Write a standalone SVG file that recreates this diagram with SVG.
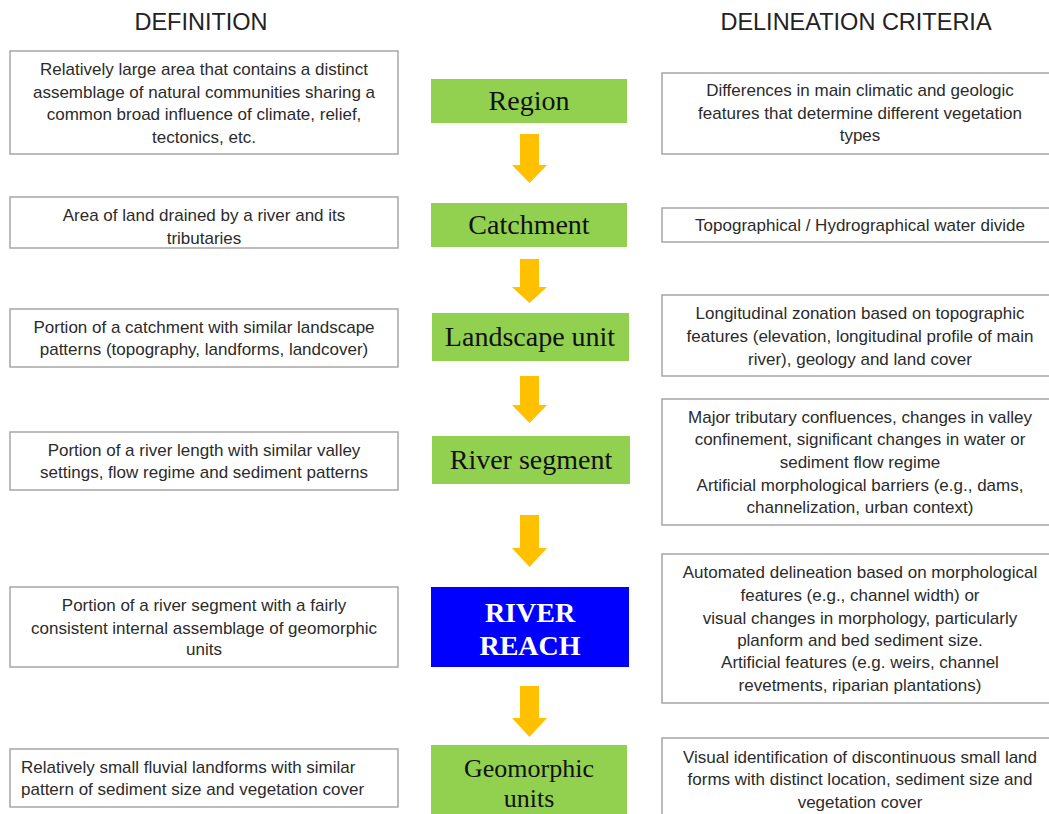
<svg xmlns="http://www.w3.org/2000/svg" width="1049" height="814" viewBox="0 0 1049 814">
<style>
.box{fill:#fff;stroke:#a6a6a6;stroke-width:1.5}
.t{font-family:"Liberation Sans",Arial,sans-serif;font-size:17px;fill:#2b2b2b;text-anchor:middle}
.tl{font-family:"Liberation Sans",Arial,sans-serif;font-size:17px;fill:#2b2b2b}
.h{font-family:"Liberation Sans",Arial,sans-serif;font-size:23.5px;fill:#222;text-anchor:middle}
.g{fill:#92d050}
.lvl{font-family:"Liberation Serif","Times New Roman",serif;font-size:28px;fill:#111;text-anchor:middle}
.arr{fill:#ffc000}
</style>
<rect width="1049" height="814" fill="#fff"/>
<text class="h" x="201" y="30">DEFINITION</text>
<text class="h" x="856" y="30">DELINEATION CRITERIA</text>

<g id="def-region"><rect class="box" x="10" y="51" width="388" height="103"/>
<text class="t" x="204" y="75">Relatively large area that contains a distinct</text>
<text class="t" x="204" y="98">assemblage of natural communities sharing a</text>
<text class="t" x="204" y="120">common broad influence of climate, relief,</text>
<text class="t" x="204" y="143">tectonics, etc.</text></g>
<g id="def-catchment"><rect class="box" x="10" y="197" width="388" height="51"/>
<text class="t" x="204" y="221">Area of land drained by a river and its</text>
<text class="t" x="204" y="244">tributaries</text></g>
<g id="def-landscape"><rect class="box" x="10" y="309" width="388" height="58"/>
<text class="t" x="204" y="333">Portion of a catchment with similar landscape</text>
<text class="t" x="204" y="355">patterns (topography, landforms, landcover)</text></g>
<g id="def-segment"><rect class="box" x="10" y="432" width="388" height="58"/>
<text class="t" x="204" y="456">Portion of a river length with similar valley</text>
<text class="t" x="204" y="478">settings, flow regime and sediment patterns</text></g>
<g id="def-reach"><rect class="box" x="10" y="587" width="388" height="80"/>
<text class="t" x="204" y="611">Portion of a river segment with a fairly</text>
<text class="t" x="204" y="634">consistent internal assemblage of geomorphic</text>
<text class="t" x="204" y="655">units</text></g>
<g id="def-geomorphic"><rect class="box" x="10" y="749" width="388" height="58"/>
<text class="tl" x="21" y="773">Relatively small fluvial landforms with similar</text>
<text class="tl" x="21" y="795">pattern of sediment size and vegetation cover</text></g>

<g id="n-region"><rect class="g" x="431" y="79" width="196" height="44"/><text class="lvl" x="529" y="110">Region</text></g>
<g id="n-catchment"><rect class="g" x="431" y="203" width="196" height="44"/><text class="lvl" x="529" y="234">Catchment</text></g>
<g id="n-landscape"><rect class="g" x="432" y="313" width="197" height="48"/><text class="lvl" x="530" y="346">Landscape unit</text></g>
<g id="n-segment"><rect class="g" x="432" y="436" width="198" height="48"/><text class="lvl" x="531" y="469">River segment</text></g>
<g id="n-reach"><rect x="431" y="587" width="198" height="80" fill="#0000ff"/>
<text class="lvl" x="530" y="622" style="fill:#fff;font-weight:bold">RIVER</text>
<text class="lvl" x="530" y="655" style="fill:#fff;font-weight:bold">REACH</text></g>
<g id="n-geomorphic"><rect class="g" x="431" y="745" width="196" height="75"/>
<text class="lvl" x="529" y="777" style="font-size:26px">Geomorphic</text>
<text class="lvl" x="529" y="807" style="font-size:26px">units</text></g>

<g id="crit-region"><rect class="box" x="662" y="73" width="396" height="81"/>
<text class="t" x="860" y="96">Differences in main climatic and geologic</text>
<text class="t" x="860" y="119">features that determine different vegetation</text>
<text class="t" x="860" y="141">types</text></g>
<g id="crit-catchment"><rect class="box" x="662" y="208" width="396" height="34"/>
<text class="t" x="860" y="231">Topographical / Hydrographical water divide</text></g>
<g id="crit-landscape"><rect class="box" x="662" y="295" width="396" height="81"/>
<text class="t" x="860" y="319">Longitudinal zonation based on topographic</text>
<text class="t" x="860" y="342">features (elevation, longitudinal profile of main</text>
<text class="t" x="860" y="365">river), geology and land cover</text></g>
<g id="crit-segment"><rect class="box" x="662" y="399" width="396" height="126"/>
<text class="t" x="860" y="423">Major tributary confluences, changes in valley</text>
<text class="t" x="860" y="445">confinement, significant changes in water or</text>
<text class="t" x="860" y="468">sediment flow regime</text>
<text class="t" x="860" y="491">Artificial morphological barriers (e.g., dams,</text>
<text class="t" x="860" y="513">channelization, urban context)</text></g>
<g id="crit-reach"><rect class="box" x="662" y="554" width="396" height="149"/>
<text class="t" x="860" y="578">Automated delineation based on morphological</text>
<text class="t" x="860" y="601">features (e.g., channel width) or</text>
<text class="t" x="860" y="624">visual changes in morphology, particularly</text>
<text class="t" x="860" y="646">planform and bed sediment size.</text>
<text class="t" x="860" y="668">Artificial features (e.g. weirs, channel</text>
<text class="t" x="860" y="691">revetments, riparian plantations)</text></g>
<g id="crit-geomorphic"><rect class="box" x="662" y="738" width="396" height="90"/>
<text class="t" x="860" y="763">Visual identification of discontinuous small land</text>
<text class="t" x="860" y="785">forms with distinct location, sediment size and</text>
<text class="t" x="860" y="808">vegetation cover</text></g>

<g id="connectors">
<polygon class="arr" points="520,134 539,134 539,165 547,165 529.5,183 512,165 520,165"/>
<polygon class="arr" points="520,259 539,259 539,287 547,287 529.5,303 512,287 520,287"/>
<polygon class="arr" points="520,376 539,376 539,405 547,405 529.5,423 512,405 520,405"/>
<polygon class="arr" points="520,515 539,515 539,548 547,548 529.5,567 512,548 520,548"/>
<polygon class="arr" points="520,686 539,686 539,718 547,718 529.5,737 512,718 520,718"/>
</g>
</svg>
